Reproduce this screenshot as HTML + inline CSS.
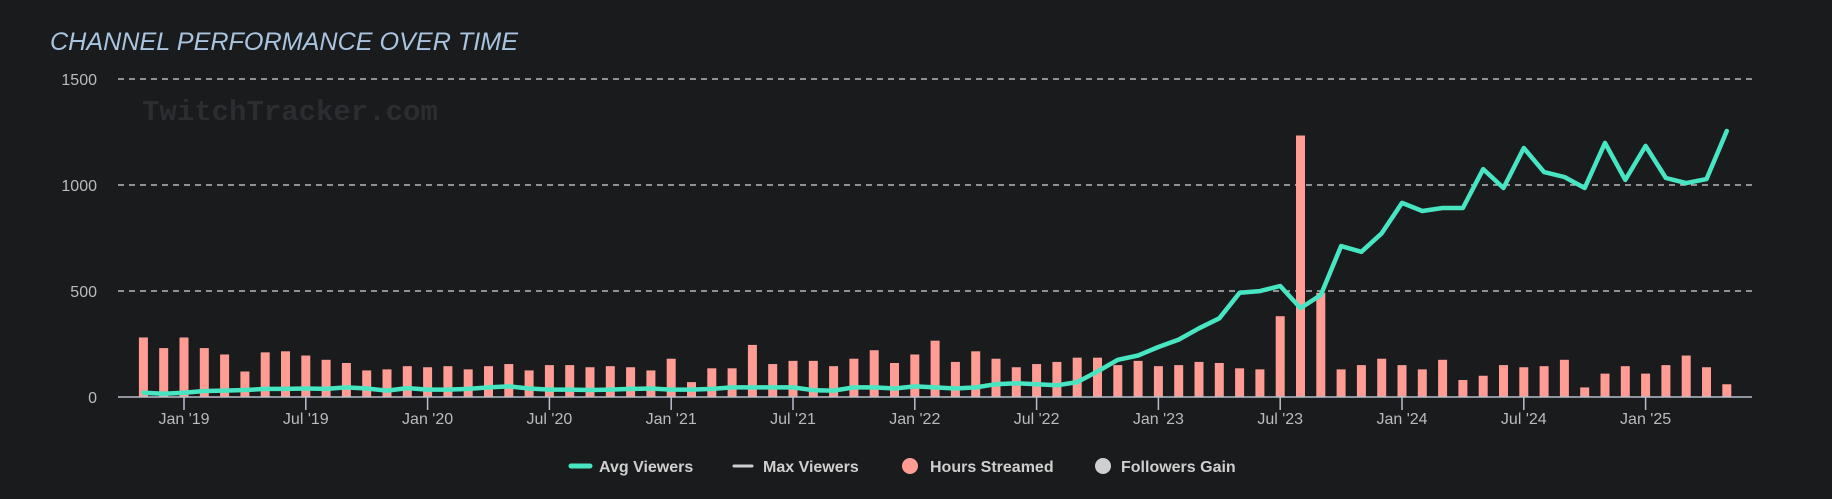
<!DOCTYPE html>
<html><head><meta charset="utf-8"><style>
html,body{margin:0;padding:0;background:#1a1b1d;}
svg{display:block;font-family:"Liberation Sans",sans-serif;}
</style></head><body>
<svg id="c" width="1832" height="499" viewBox="0 0 1832 499" xmlns="http://www.w3.org/2000/svg">
<rect width="1832" height="499" fill="#1a1b1d"/>
<text x="50" y="50" font-size="25" font-style="italic" fill="#a9c4e0" textLength="468" lengthAdjust="spacingAndGlyphs">CHANNEL PERFORMANCE OVER TIME</text>
<text x="142" y="120" font-family="Liberation Mono,monospace" font-weight="bold" font-size="29" fill="#2b2d30">TwitchTracker.com</text>
<g stroke="#d8d8d8" stroke-width="1.3" stroke-dasharray="6,5">
<line x1="118" y1="79" x2="1752" y2="79"/><line x1="118" y1="185" x2="1752" y2="185"/><line x1="118" y1="291" x2="1752" y2="291"/>
</g>
<g font-size="16" fill="#bbb" text-anchor="end">
<text x="97" y="85">1500</text><text x="97" y="191">1000</text><text x="97" y="297">500</text><text x="97" y="403">0</text>
</g>
<g id="bars" fill="#ff9c93"></g>
<line x1="118" y1="397" x2="1752" y2="397" stroke="#b8c0cc" stroke-width="1.5"/>
<g id="ticks" stroke="#b8c0cc" stroke-width="1.5"></g>
<g id="tl" font-size="16" fill="#bbb" text-anchor="middle"></g>
<polyline id="ln" fill="none" stroke="#48e5c2" stroke-width="4.5" stroke-linejoin="round" stroke-linecap="round"/>
<g font-size="16" font-weight="bold" fill="#cfcfcf">
<line x1="571" y1="466" x2="590" y2="466" stroke="#48e5c2" stroke-width="5" stroke-linecap="round"/>
<text x="599" y="472">Avg Viewers</text>
<line x1="734" y1="466" x2="752" y2="466" stroke="#cfcfcf" stroke-width="3" stroke-linecap="round"/>
<text x="763" y="472">Max Viewers</text>
<circle cx="910" cy="466" r="8" fill="#ff9c93"/>
<text x="930" y="472">Hours Streamed</text>
<circle cx="1103" cy="466" r="8" fill="#cfcfcf"/>
<text x="1121" y="472">Followers Gain</text>
</g>
</svg>
<script>
var hrs=[280,230,280,230,200,120,210,215,195,175,160,125,130,145,140,145,130,145,155,125,150,150,140,145,
140,125,180,70,135,135,245,155,170,170,145,180,220,160,200,265,165,215,180,140,155,165,185,185,150,170,145,150,165,160,135,130,380,1230,490,130,150,180,150,130,175,80,100,150,140,145,175,45,110,145,110,150,195,140,60];
var avg=[20,15,20,28,30,33,38,38,40,38,45,40,30,42,35,35,38,45,50,40,35,35,33,35,38,40,35,35,38,45,45,45,45,32,30,45,45,40,50,45,40,45,60,65,60,55,70,120,175,195,235,270,323,370,490,498,522,418,480,710,683,770,913,875,889,889,1072,983,1171,1058,1035,983,1195,1021,1181,1030,1006,1025,1251];
var ns="http://www.w3.org/2000/svg",k=0.2126,X=function(i){return 143.4+i*20.3;};
var b=document.getElementById('bars');
hrs.forEach(function(v,i){var r=document.createElementNS(ns,'rect');r.setAttribute('x',X(i)-4.5);r.setAttribute('width',9);r.setAttribute('y',397-v*k);r.setAttribute('height',v*k);b.appendChild(r);});
document.getElementById('ln').setAttribute('points',avg.map(function(v,i){return X(i).toFixed(1)+','+(397-v*k).toFixed(1);}).join(' '));
var labs=["Jan '19","Jul '19","Jan '20","Jul '20","Jan '21","Jul '21","Jan '22","Jul '22","Jan '23","Jul '23","Jan '24","Jul '24","Jan '25"];
var t=document.getElementById('ticks'),tl=document.getElementById('tl');
labs.forEach(function(s,j){var x=X(2+6*j);var l=document.createElementNS(ns,'line');l.setAttribute('x1',x);l.setAttribute('x2',x);l.setAttribute('y1',397);l.setAttribute('y2',410);t.appendChild(l);
var tx=document.createElementNS(ns,'text');tx.setAttribute('x',x);tx.setAttribute('y',424);tx.textContent=s;tl.appendChild(tx);});
</script>
</body></html>
